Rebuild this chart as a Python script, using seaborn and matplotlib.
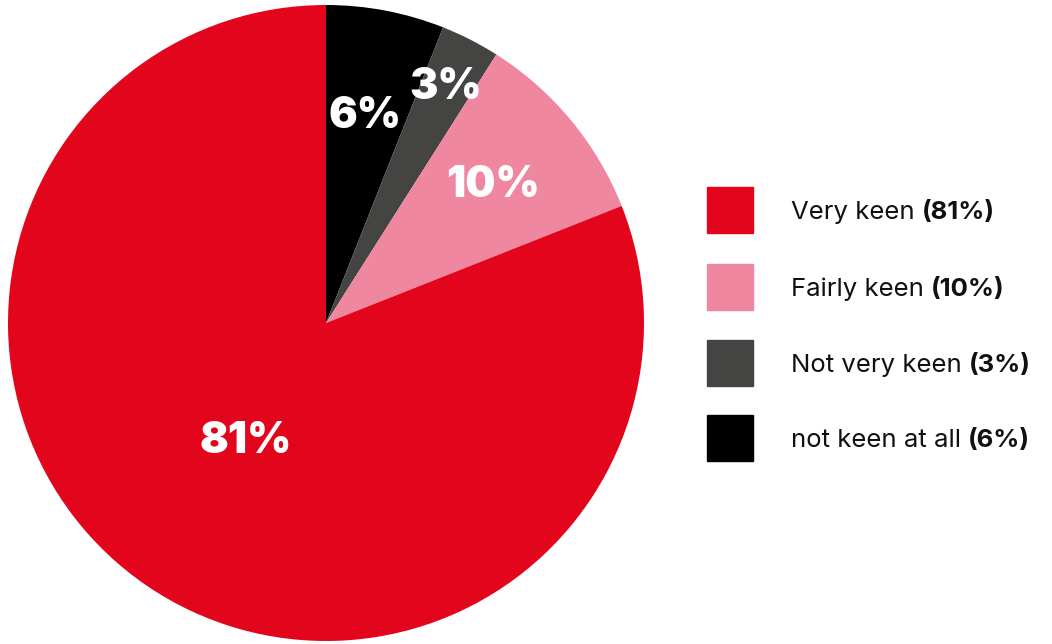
import matplotlib
matplotlib.use("Agg")
import matplotlib.pyplot as plt
import seaborn as sns
import numpy as np

sns.set_theme(style="white")
plt.rcParams["font.family"] = ["Inter", "DejaVu Sans"]

# Survey responses, in drawing order (clockwise from 12 o'clock)
pie_labels = ["not keen at all", "Not very keen", "Fairly keen", "Very keen"]
pie_values = [6, 3, 10, 81]
pie_colors = ["#000000", "#444442", "#EF87A0", "#E3051B"]
# Radial position of each value label, as a fraction of the radius
label_radius = [0.66, 0.83, 0.68, 0.45]

# Legend order
legend_names = ["Very keen", "Fairly keen", "Not very keen", "not keen at all"]
legend_values = [81, 10, 3, 6]
legend_colors = ["#E3051B", "#EF87A0", "#444442", "#000000"]

W, H = 1052, 644
fig = plt.figure(figsize=(W / 100, H / 100), dpi=100)
fig.patch.set_facecolor("white")

cx, cy, R = 326, 323, 318
ax = fig.add_axes([(cx - R) / W, (H - cy - R) / H, 2 * R / W, 2 * R / H])
wedges, _ = ax.pie(pie_values, colors=pie_colors, startangle=90, counterclock=False,
                   radius=1.0, wedgeprops=dict(linewidth=0))
ax.set_xlim(-1, 1)
ax.set_ylim(-1, 1)
ax.set_aspect("equal")
ax.axis("off")

for w, v, rf in zip(wedges, pie_values, label_radius):
    mid = np.deg2rad((w.theta1 + w.theta2) / 2)
    ax.text(rf * np.cos(mid), rf * np.sin(mid), f"{v}%", ha="center", va="center",
            color="white", fontsize=30.5, fontweight=900)

# Legend: colour squares with regular name and bold percentage
fig.canvas.draw()
renderer = fig.canvas.get_renderer()
sq = 46
row_y = [210, 287, 363, 438]
for name, val, col, yc in zip(legend_names, legend_values, legend_colors, row_y):
    fig.patches.append(plt.Rectangle(((707) / W, (H - yc - sq / 2) / H), sq / W, sq / H,
                                     transform=fig.transFigure, color=col, figure=fig))
    t = fig.text(791 / W, (H - yc) / H, name + " ", ha="left", va="center_baseline",
                 fontsize=18.5, color="#111111")
    ext = t.get_window_extent(renderer)
    fig.text(ext.x1 / W, (H - yc) / H, f"({val}%)", ha="left", va="center_baseline",
             fontsize=18.5, fontweight="bold", color="#111111")

fig.savefig("out.png", dpi=100, facecolor="white")
